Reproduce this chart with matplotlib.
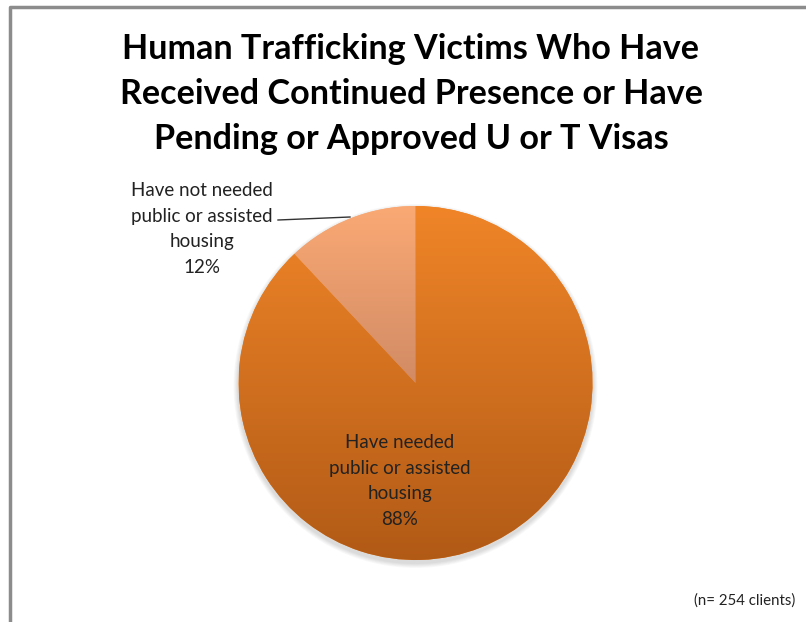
import numpy as np
import matplotlib
matplotlib.use('Agg')
import matplotlib.pyplot as plt
from matplotlib.colors import LinearSegmentedColormap

# Housing need among clients with status / visas
labels = ['Have not needed\npublic or assisted\nhousing', 'Have needed\npublic or assisted\nhousing']
shares = [12, 88]
top_colors = ['#FAA974', '#F08528']
bottom_colors = ['#A86C55', '#B15A16']
title = 'Human Trafficking Victims Who Have\nReceived Continued Presence or Have\nPending or Approved U or T Visas'
note = '(n= 254 clients)'

plt.rcParams['font.family'] = ['Lato', 'DejaVu Sans']

W, H = 806, 622
fig = plt.figure(figsize=(W / 100, H / 100), dpi=100)
ax = fig.add_axes([0, 0, 1, 1])

# chart frame (top and left edges visible)
ax.plot([10, 10, W], [0, H - 7, H - 7], color='#8c8c8c', lw=2.5, solid_capstyle='butt')

cx, cy, r = 415.5, H - 383, 177

# soft shadow under the pie
for i in range(6):
    sh = plt.Circle((cx, cy - 3), r + 1 + i * 0.8, color='black', alpha=0.025, lw=0, zorder=1)
    ax.add_patch(sh)

wedges, _ = ax.pie(shares, startangle=90, counterclock=True, center=(cx, cy), radius=r,
                   colors=top_colors, wedgeprops=dict(linewidth=0))

grad = np.linspace(0, 1, 256).reshape(-1, 1)
for w, c0, c1 in zip(wedges, top_colors, bottom_colors):
    w.set_zorder(2)
    cmap = LinearSegmentedColormap.from_list('g', [c0, c1])
    im = ax.imshow(grad, cmap=cmap, extent=[cx - r, cx + r, cy - r, cy + r],
                   origin='upper', aspect='auto', zorder=3)
    im.set_clip_path(w)

ax.set_xlim(0, W)
ax.set_ylim(0, H)
ax.set_aspect('equal')
ax.axis('off')

ax.text(W / 2 + 8, H - 94, title, ha='center', va='center', fontsize=24.6,
        fontweight='bold', color='black', linespacing=1.5)

ax.text(202, H - 229, labels[0] + '\n%d%%' % shares[0], ha='center', va='center',
        fontsize=13.5, color='#222222', linespacing=1.6, zorder=5)
ax.plot([278, 350], [H - 220, H - 217], color='#333333', lw=1, zorder=5)

ax.text(400, H - 481, labels[1] + '\n%d%%' % shares[1], ha='center', va='center',
        fontsize=13.5, color='#222222', linespacing=1.6, zorder=5)

ax.text(745, H - 601, note, ha='center', va='center', fontsize=10.8, color='#222222')

fig.savefig('out.png', dpi=100)
